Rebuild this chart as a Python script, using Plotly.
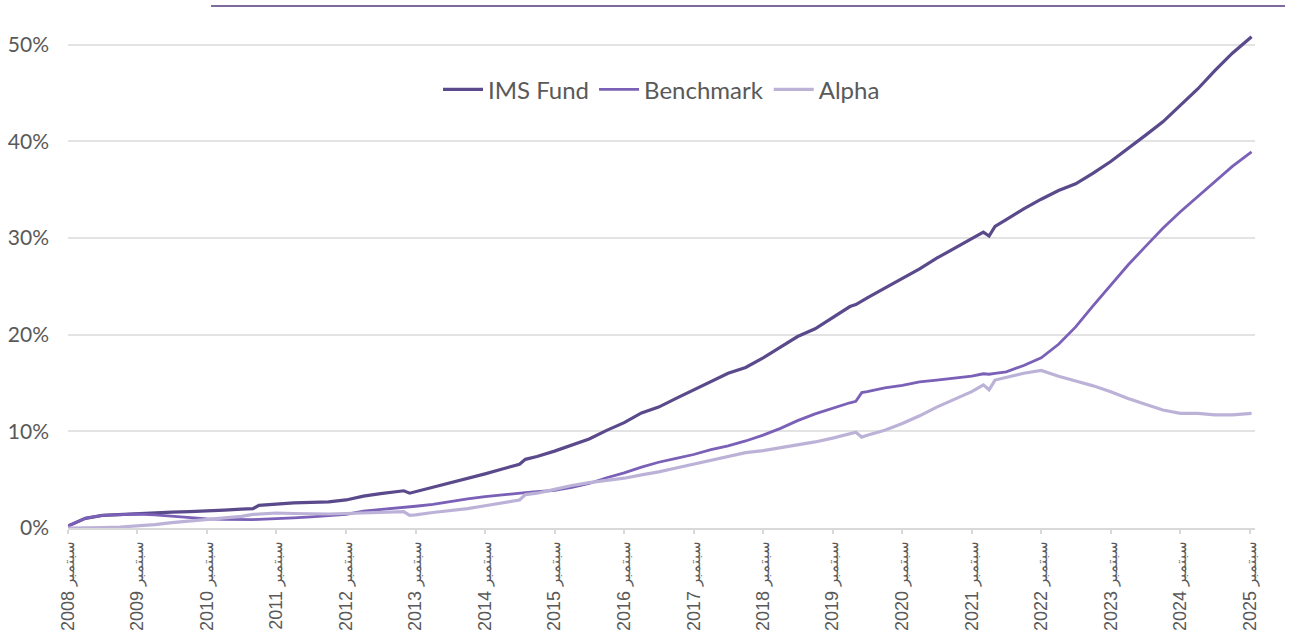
import plotly.graph_objects as go

# ---- data (cumulative return, %) ----
dates = [
    "2008-09-01", "2008-12-01", "2009-03-01", "2009-06-01", "2009-09-01", "2009-12-01",
    "2010-03-01", "2010-06-01", "2010-09-01", "2010-12-01", "2011-03-01", "2011-05-01",
    "2011-06-01", "2011-09-01", "2011-12-01", "2012-03-01", "2012-06-01", "2012-09-01",
    "2012-12-01", "2013-03-01", "2013-06-01", "2013-07-01", "2013-08-01", "2013-09-01",
    "2013-12-01", "2014-03-01", "2014-06-01", "2014-09-01", "2014-12-01", "2015-03-01",
    "2015-04-01", "2015-06-01", "2015-09-01", "2015-12-01", "2016-03-01", "2016-06-01",
    "2016-09-01", "2016-12-01", "2017-03-01", "2017-06-01", "2017-09-01", "2017-12-01",
    "2018-03-01", "2018-06-01", "2018-09-01", "2018-12-01", "2019-03-01", "2019-06-01",
    "2019-09-01", "2019-12-01", "2020-01-01", "2020-02-01", "2020-03-01", "2020-06-01",
    "2020-09-01", "2020-12-01", "2021-03-01", "2021-06-01", "2021-09-01", "2021-11-01",
    "2021-12-01", "2022-01-01", "2022-03-01", "2022-06-01", "2022-09-01", "2022-12-01",
    "2023-03-01", "2023-06-01", "2023-09-01", "2023-12-01", "2024-03-01", "2024-06-01",
    "2024-09-01", "2024-12-01", "2025-03-01", "2025-06-01", "2025-09-10",
]

ims_fund = [
    0.2, 1.0, 1.3, 1.4, 1.5, 1.6,
    1.65, 1.7, 1.75, 1.85, 1.95, 2.0,
    2.35, 2.5, 2.6, 2.65, 2.7, 2.9,
    3.3, 3.55, 3.8, 3.85, 3.6, 3.75,
    4.25, 4.7, 5.1, 5.6, 6.1, 6.6,
    7.1, 7.4, 7.95, 8.6, 9.2, 10.1,
    10.9, 11.9, 12.5, 13.4, 14.3, 15.2,
    16.0, 16.6, 17.6, 18.7, 19.8, 20.6,
    21.8, 22.9, 23.1, 23.5, 23.8, 24.8,
    25.8, 26.8, 27.9, 28.9, 29.9, 30.6,
    30.2, 31.2, 31.9, 33.0, 34.0, 34.9,
    35.6, 36.7, 37.9, 39.2, 40.6, 42.0,
    43.7, 45.4, 47.3, 49.1, 50.8,
]

benchmark = [
    0.2, 1.0, 1.3, 1.4, 1.45, 1.35,
    1.2, 1.05, 0.95, 0.9, 0.85, 0.87,
    0.9, 0.95, 1.05, 1.15, 1.25, 1.4,
    1.75, 1.9, 2.05, 2.15, 2.2, 2.25,
    2.45, 2.75, 3.0, 3.25, 3.45, 3.6,
    3.65, 3.75, 3.9, 4.2, 4.6, 5.2,
    5.7, 6.3, 6.8, 7.2, 7.6, 8.1,
    8.5, 9.0, 9.6, 10.3, 11.1, 11.8,
    12.4, 12.95, 13.1, 14.0, 14.1, 14.5,
    14.75, 15.1, 15.3, 15.5, 15.7, 15.95,
    15.9, 16.0, 16.15, 16.8, 17.6, 19.0,
    20.8, 23.0, 25.1, 27.2, 29.1, 31.0,
    32.7, 34.3, 35.8, 37.4, 38.9,
]

alpha = [
    0.0, 0.0, 0.05, 0.1, 0.2, 0.35,
    0.55, 0.7, 0.85, 1.0, 1.2, 1.4,
    1.45, 1.55, 1.5, 1.45, 1.45, 1.5,
    1.55, 1.65, 1.7, 1.7, 1.3, 1.35,
    1.6, 1.8, 2.0, 2.3, 2.6, 2.9,
    3.45, 3.6, 4.0, 4.4, 4.7, 4.95,
    5.15, 5.5, 5.8, 6.2, 6.6, 7.0,
    7.4, 7.8, 8.0, 8.3, 8.6, 8.9,
    9.3, 9.75, 9.9, 9.4, 9.6, 10.1,
    10.8, 11.6, 12.5, 13.3, 14.1, 14.8,
    14.3, 15.3, 15.6, 16.0, 16.3, 15.7,
    15.2, 14.7, 14.1, 13.4, 12.8, 12.2,
    11.85, 11.85, 11.7, 11.7, 11.85,
]

tick_years = list(range(2008, 2026))
tick_dates = [f"{y}-09-01" for y in tick_years]
month_label = "سبتمبر"
tick_labels = [
    f"<span style='font-size:15px'>{month_label}</span> {y}" for y in tick_years
]

series = [
    ("IMS Fund", ims_fund, "#5a498b", 3.2),
    ("Benchmark", benchmark, "#7a60b6", 2.8),
    ("Alpha", alpha, "#bcb2d8", 3.2),
]

fig = go.Figure()
for name, vals, color, w in series:
    fig.add_trace(go.Scatter(
        x=dates, y=vals, name=name, mode="lines",
        line=dict(color=color, width=w),
    ))

fig.update_layout(
    width=1292, height=633,
    margin=dict(l=68, r=37, t=30, b=105, autoexpand=False),
    paper_bgcolor="white", plot_bgcolor="white",
    font=dict(family="Lato, 'Open Sans', sans-serif", color="#595959"),
    showlegend=True,
    legend=dict(
        orientation="h", x=0.5, xanchor="center", y=0.88, yanchor="middle",
        font=dict(size=24, family="Lato, sans-serif", color="#595959"),
        bgcolor="rgba(0,0,0,0)", itemwidth=40,
    ),
    shapes=[dict(
        type="line", xref="paper", yref="paper",
        x0=0.1205, x1=1.0253, y0=1.048, y1=1.048,
        line=dict(color="#7e6b9b", width=2),
    )],
)

fig.update_xaxes(
    automargin=False,
    range=["2008-09-01", "2025-09-28"],
    tickmode="array", tickvals=tick_dates, ticktext=tick_labels,
    tickangle=-90,
    tickfont=dict(family="'Liberation Sans', Arial, sans-serif",
                  size=18, color="#595959"),
    showgrid=False, showline=True, linecolor="#d9d9d9", linewidth=1.5,
    ticks="outside", tickcolor="#d9d9d9", ticklen=4, tickwidth=1.5,
    zeroline=False,
)
fig.update_yaxes(
    automargin=False,
    range=[0, 51.5],
    tickvals=[0, 10, 20, 30, 40, 50],
    ticktext=["0%", "10%", "20%", "30%", "40%", "50%"],
    tickfont=dict(family="Lato, sans-serif", size=21, color="#595959"),
    showgrid=True, gridcolor="#e3e3e3", gridwidth=1.5,
    zeroline=False, showline=False,
    ticks="", ticklabelstandoff=18,
)

fig.write_html(
    "out.html",
    config={"displayModeBar": False},
    post_script="document.body.style.margin='0';document.body.style.overflow='hidden';",
)
